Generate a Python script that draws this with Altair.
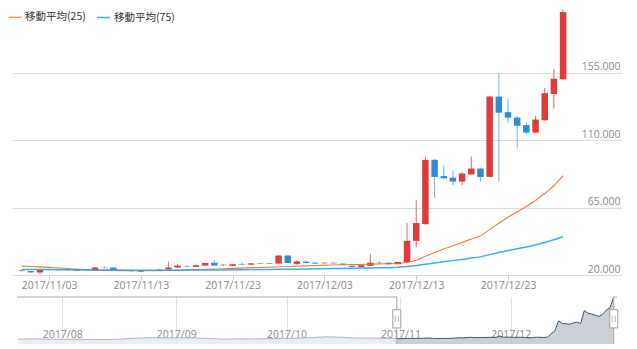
import altair as alt
import pandas as pd

# ---------------- data ----------------
dates = pd.date_range("2017-10-31", "2017-12-29", freq="D")

opens = [22.6, 22.6, 21.7, 23.7, 23.9, 23.9, 23.0, 23.9, 22.8, 25.1,
         25.0, 23.3, 22.6, 22.2, 23.2, 23.5, 23.7, 25.0, 25.8, 25.4,
         26.3, 28.2, 26.5, 26.1, 27.4, 26.9, 27.5, 27.7, 27.6, 33.0,
         27.4, 28.9, 28.2, 27.8, 28.2, 27.6, 26.1, 25.4, 26.1, 28.3,
         28.2, 27.2, 28.6, 42.8, 54.0, 96.9, 86.1, 85.0, 82.4, 87.2,
         91.1, 85.5, 139.2, 128.8, 125.1, 120.1, 115.1, 123.4, 140.9, 150.7]
closes = [23.0, 21.7, 23.3, 23.3, 23.3, 23.3, 23.7, 23.3, 25.0, 24.9,
          23.3, 23.0, 23.0, 23.3, 23.4, 23.8, 25.0, 26.3, 25.5, 26.5,
          28.0, 26.3, 26.9, 27.2, 27.0, 27.8, 27.8, 28.0, 33.0, 28.0,
          29.1, 28.0, 27.6, 28.2, 27.8, 26.9, 25.4, 26.5, 28.2, 28.1,
          27.2, 28.7, 42.8, 54.7, 96.9, 85.5, 84.6, 82.4, 87.8, 91.1,
          85.5, 139.2, 128.4, 125.1, 119.7, 115.1, 123.8, 141.4, 151.1, 195.6]
highs = [23.3, 22.8, 23.5, 24.1, 24.3, 24.1, 23.9, 24.2, 25.2, 25.9,
         25.2, 23.5, 23.2, 23.5, 23.7, 24.0, 29.1, 27.2, 26.5, 26.8,
         28.2, 29.75, 27.1, 27.4, 28.5, 28.0, 28.0, 28.2, 33.2, 33.2,
         29.3, 29.8, 28.4, 28.4, 28.4, 27.8, 26.3, 26.7, 34.1, 29.1,
         28.4, 29.0, 54.7, 69.9, 99.1, 97.5, 93.3, 89.8, 88.7, 99.1,
         91.5, 139.5, 155.0, 137.7, 126.2, 121.9, 126.2, 145.0, 157.6, 198.3]
lows = [22.4, 21.5, 20.4, 23.0, 23.0, 23.1, 22.8, 23.1, 22.6, 24.1,
        23.1, 22.8, 22.0, 22.0, 23.0, 23.3, 23.5, 24.8, 25.3, 25.2,
        26.1, 26.1, 26.3, 25.9, 26.8, 26.7, 27.3, 27.5, 27.4, 27.8,
        26.8, 27.8, 27.4, 27.6, 27.6, 26.7, 25.2, 25.2, 25.9, 27.4,
        27.0, 27.0, 28.3, 38.4, 53.5, 71.4, 83.9, 80.0, 80.0, 87.0,
        82.4, 85.3, 82.4, 121.4, 105.2, 114.3, 115.0, 123.0, 131.2, 150.5]

ma25 = [25.9, 25.7, 25.4, 25.1, 24.7, 24.3, 23.9, 23.6, 23.3, 23.1,
        23.0, 22.9, 22.8, 22.8, 22.8, 22.9, 23.0, 23.2, 23.4, 23.6,
        23.8, 24.0, 24.2, 24.4, 24.6, 24.8, 25.0, 25.2, 25.5, 25.7,
        25.9, 26.1, 26.3, 26.5, 26.7, 26.8, 26.9, 27.0, 27.2, 27.4,
        27.5, 27.7, 28.4, 29.8, 32.5, 35.0, 37.3, 39.5, 41.8, 44.0,
        46.0, 50.5, 54.6, 58.6, 62.3, 65.8, 69.8, 74.4, 79.6, 86.3]
ma75 = [23.7, 23.7, 23.6, 23.6, 23.5, 23.5, 23.4, 23.4, 23.4, 23.3,
        23.3, 23.3, 23.2, 23.2, 23.2, 23.2, 23.2, 23.2, 23.3, 23.3,
        23.3, 23.4, 23.4, 23.5, 23.5, 23.6, 23.6, 23.7, 23.8, 23.8,
        23.9, 24.0, 24.1, 24.2, 24.3, 24.4, 24.5, 24.6, 24.7, 24.8,
        24.9, 25.1, 25.6, 26.3, 27.2, 28.0, 28.8, 29.6, 30.4, 31.3,
        32.1, 33.6, 35.0, 36.3, 37.5, 38.7, 40.0, 41.7, 43.5, 45.5]

series_names = ["移動平均(25)", "移動平均(75)"]

# overview (data-zoom) series before the selected window
pre_dates = ["2017-07-20", "2017-07-24", "2017-07-28", "2017-08-01", "2017-08-05",
             "2017-08-09", "2017-08-13", "2017-08-17", "2017-08-21", "2017-08-25",
             "2017-08-29", "2017-09-02", "2017-09-06", "2017-09-10", "2017-09-14",
             "2017-09-18", "2017-09-22", "2017-09-26", "2017-09-30", "2017-10-04",
             "2017-10-08", "2017-10-12", "2017-10-16", "2017-10-20", "2017-10-24",
             "2017-10-28"]
pre_close = [20.5, 21.5, 20.0, 19.5, 19.5, 19.0, 18.5, 20.5, 24.5, 26.5,
             25.5, 26.0, 25.5, 23.0, 20.0, 21.5, 21.0, 22.0, 23.0, 24.0,
             27.0, 30.0, 28.0, 25.0, 24.5, 23.5]

x_tick_dates = ["2017-11-03", "2017-11-13", "2017-11-23", "2017-12-03", "2017-12-13", "2017-12-23"]
y_ticks = [20, 65, 110, 155]
month_ticks = ["2017-08-01", "2017-09-01", "2017-10-01", "2017-11-01", "2017-12-01"]

main_x_range = ["2017-10-30T12:00:00", "2018-01-03T21:00:00"]
main_y_range = [20, 197]
slider_x_range = ["2017-07-19T16:36:00", "2017-12-29T21:24:00"]
slider_y_range = [0, 196]
window = ["2017-10-31T00:00:00", "2017-12-29T00:00:00"]

RED = "#e03b3b"
BLUE = "#2b8fd6"
RED_W = "#e66a6a"
BLUE_W = "#6db5dc"
ORANGE = "#e8702a"
CYAN = "#1fadd9"

# ---------------- frames ----------------
candles = pd.DataFrame({"date": dates, "open": opens, "close": closes,
                        "high": highs, "low": lows})
ma_df = pd.concat([
    pd.DataFrame({"date": dates, "value": ma25, "series": series_names[0]}),
    pd.DataFrame({"date": dates, "value": ma75, "series": series_names[1]}),
])

pre_df = pd.DataFrame({"date": pd.to_datetime(pre_dates + [str(dates[0].date())]),
                       "close": pre_close + [closes[0]]})
win_df = pd.DataFrame({"date": dates, "close": closes})

x_main = alt.X("date:T",
               scale=alt.Scale(domain=main_x_range),
               axis=alt.Axis(values=[pd.Timestamp(d).isoformat() for d in x_tick_dates],
                             format="%Y/%m/%d", title=None, grid=False, domain=False,
                             ticks=True, tickSize=4, tickColor="#cccccc",
                             labelColor="#8c8c8c", labelFontSize=10.5, labelPadding=1))
y_scale = alt.Scale(domain=main_y_range, zero=False, nice=False)

wicks = alt.Chart(candles).mark_rule(strokeWidth=1, clip=True).encode(
    x=x_main,
    y=alt.Y("low:Q", scale=y_scale,
            axis=alt.Axis(values=y_ticks, format=".3f", orient="right", title=None,
                          grid=True, gridColor="#dddddd", ticks=False, domain=False,
                          labelAlign="right", labelPadding=-2, labelBaseline="alphabetic",
                          labelOffset=-3, labelColor="#8c8c8c", labelFontSize=10.5)),
    y2="high:Q",
    color=alt.condition("datum.close >= datum.open", alt.value(RED_W), alt.value(BLUE_W)),
)

bodies = alt.Chart(candles).mark_bar(size=6.5, clip=True).encode(
    x="date:T",
    y=alt.Y("open:Q", scale=y_scale),
    y2="close:Q",
    color=alt.condition("datum.close >= datum.open", alt.value(RED), alt.value(BLUE)),
)

lines = alt.Chart(ma_df).mark_line(opacity=0.9).encode(
    x="date:T",
    y=alt.Y("value:Q", scale=y_scale),
    strokeWidth=alt.StrokeWidth("series:N",
                                scale=alt.Scale(domain=series_names, range=[1.1, 1.5]),
                                legend=None),
    color=alt.Color("series:N",
                    scale=alt.Scale(domain=series_names, range=[ORANGE, CYAN]),
                    legend=alt.Legend(orient="none", legendX=-4, legendY=0,
                                      direction="horizontal", title=None,
                                      symbolType="stroke", symbolStrokeWidth=2.5,
                                      symbolSize=160, labelFontSize=10.5,
                                      labelOffset=3, labelLimit=200,
                                      labelColor="#333333", columnPadding=8,
                                      labelFont="Noto Sans CJK JP")),
)

main = alt.layer(wicks, bodies, lines).properties(width=610, height=265)

# ---------------- slider ----------------
x_sl = alt.X("date:T", scale=alt.Scale(domain=slider_x_range),
             axis=alt.Axis(values=[pd.Timestamp(d).isoformat() for d in month_ticks],
                           format="%Y/%m", title=None, grid=True, gridColor="#e3e3e3",
                           ticks=False, domain=False, labelPadding=-15,
                           labelColor="#8c8c8c", labelFontSize=10.5))
y_sl = alt.Scale(domain=slider_y_range, nice=False, zero=False)

pre_area = alt.Chart(pre_df).mark_area(color="#e1e6ec", line={"color": "#aab8c8", "strokeWidth": 1}).encode(
    x=x_sl, y=alt.Y("close:Q", scale=y_sl, axis=None))
win_area = alt.Chart(win_df).mark_area(color="#b5bbc4", line={"color": "#3e5472", "strokeWidth": 1}).encode(
    x="date:T", y=alt.Y("close:Q", scale=y_sl))

frame_df = pd.DataFrame({
    "x": [slider_x_range[0], window[1]],
    "x2": [window[0], slider_x_range[1]],
    "y": [slider_y_range[1], slider_y_range[1]],
})
frame_df["x"] = pd.to_datetime(frame_df["x"])
frame_df["x2"] = pd.to_datetime(frame_df["x2"])
top_border = alt.Chart(frame_df).mark_rule(color="#a8a8a8", strokeWidth=1).encode(
    x="x:T", x2="x2:T", y=alt.Y("y:Q", scale=y_sl))

win_edges = pd.DataFrame({"date": pd.to_datetime(window),
                          "y0": [slider_y_range[0]] * 2, "y1": [slider_y_range[1]] * 2,
                          "h0": [67, 67], "h1": [143, 143], "g0": [92, 92], "g1": [118, 118]})
edge_rules = alt.Chart(win_edges).mark_rule(color="#a8a8a8", strokeWidth=1).encode(
    x="date:T", y=alt.Y("y0:Q", scale=y_sl), y2="y1:Q")
handles = alt.Chart(win_edges).mark_bar(size=8, fill="white", stroke="#a0a0a0", strokeWidth=1).encode(
    x="date:T", y=alt.Y("h0:Q", scale=y_sl), y2="h1:Q")
grip1 = alt.Chart(win_edges).mark_rule(color="#b0b0b0", strokeWidth=1, xOffset=-1.5).encode(
    x="date:T", y=alt.Y("g0:Q", scale=y_sl), y2="g1:Q")
grip2 = alt.Chart(win_edges).mark_rule(color="#b0b0b0", strokeWidth=1, xOffset=1.5).encode(
    x="date:T", y=alt.Y("g0:Q", scale=y_sl), y2="g1:Q")

slider = alt.layer(pre_area, win_area, top_border, edge_rules, handles, grip1, grip2).properties(
    width=610, height=47)

chart = alt.vconcat(main, slider, spacing=4).properties(
    padding={"left": 0, "top": 2, "right": 0, "bottom": 0}
).configure_view(stroke=None).configure_axis(
    labelFont="Open Sans"
).configure_legend(labelFont="Noto Sans CJK JP")

chart.save("out.html", embed_options={"renderer": "svg", "actions": False})
